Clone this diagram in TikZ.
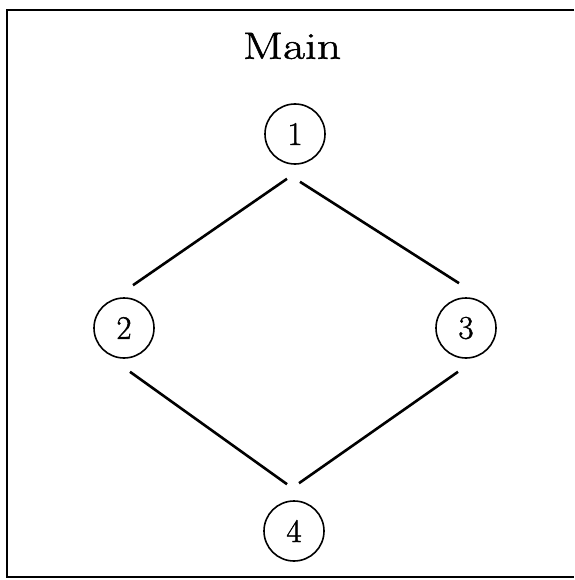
\documentclass[tikz,border=0pt]{standalone}
\usepackage{fontspec}
\setmainfont{Latin Modern Roman}
\newfontfamily\heavyroman[FakeBold=1.2]{Latin Modern Roman}
\begin{document}
\begin{tikzpicture}[x=1pt,y=-1pt,
  vertex/.style={draw,circle,line width=1.6pt,minimum size=60pt,inner sep=0pt,font=\heavyroman\fontsize{33}{35}\selectfont},
  edge/.style={line width=2.6pt},
  frameline/.style={line width=2.2pt}]
  \useasboundingbox (0,0) rectangle (574,580);
  % open frame: left, top and bottom sides
  \draw[frameline] (574,10) -- (7,10) -- (7,577) -- (574,577);
  \node (title) at (292,46) {\heavyroman\fontsize{38}{40}\selectfont\scalebox{1.25}[1]{Main}};
  \node[vertex] (n1) at (295,134) {1};
  \node[vertex] (n2) at (124,328) {2};
  \node[vertex] (n3) at (466,328) {3};
  \node[vertex] (n4) at (294,531) {4};
  \draw[edge] ([xshift=-8pt,yshift=-14pt]n1.south) -- ([xshift=9pt,yshift=12pt]n2.north);
  \draw[edge] ([xshift=5pt,yshift=-17pt]n1.south) -- ([xshift=-7pt,yshift=14pt]n3.north);
  \draw[edge] ([xshift=6pt,yshift=-13pt]n2.south) -- ([xshift=-7pt,yshift=16pt]n4.north);
  \draw[edge] ([xshift=-8pt,yshift=-13pt]n3.south) -- ([xshift=5pt,yshift=17pt]n4.north);
\end{tikzpicture}
\end{document}
